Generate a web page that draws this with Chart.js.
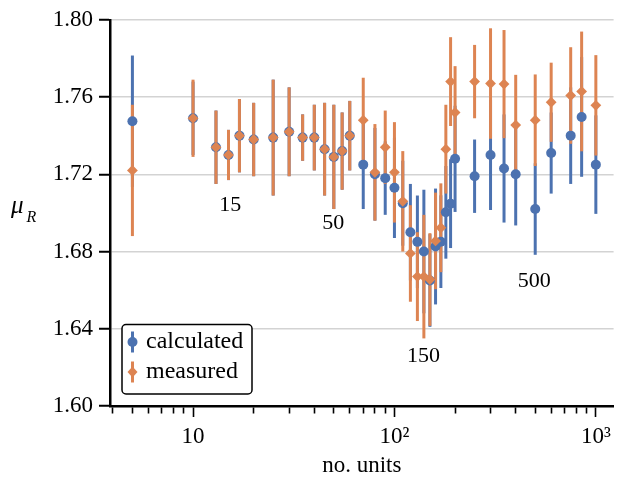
<!DOCTYPE html>
<html>
<head>
<meta charset="utf-8">
<script src="https://cdn.jsdelivr.net/npm/chart.js@4.4.1/dist/chart.umd.min.js"></script>
<style>
  html, body { margin: 0; padding: 0; background: #fff; }
  #wrap { width: 619px; height: 478px; }
</style>
</head>
<body>
<div id="wrap"><canvas id="muChart" width="619" height="478"></canvas></div>
<script>
// data
const units = [5, 10, 13, 15, 17, 20, 25, 30, 35, 40, 45, 50, 55, 60, 70, 80, 90, 100, 110, 120, 130, 140, 150, 160, 170, 180, 190, 200, 250, 300, 350, 400, 500, 600, 750, 850, 1000];
const calcMean = [1.7475, 1.749, 1.734, 1.730, 1.740, 1.738, 1.739, 1.742, 1.739, 1.739, 1.733, 1.729, 1.732, 1.740, 1.725, 1.720, 1.718, 1.713, 1.705, 1.690, 1.685, 1.680, 1.665, 1.6826, 1.6851, 1.7003, 1.7048, 1.728, 1.719, 1.730, 1.723, 1.720, 1.702, 1.731, 1.740, 1.7497, 1.725];
const calcErr = [0.034, 0.019, 0.019, 0.013, 0.019, 0.019, 0.030, 0.023, 0.012, 0.017, 0.024, 0.027, 0.020, 0.018, 0.023, 0.024, 0.019, 0.026, 0.022, 0.025, 0.024, 0.032, 0.024, 0.030, 0.024, 0.024, 0.023, 0.0275, 0.019, 0.0285, 0.028, 0.0265, 0.0237, 0.021, 0.025, 0.031, 0.0255];
const measMean = [1.722, 1.749, 1.734, 1.730, 1.740, 1.738, 1.739, 1.742, 1.739, 1.739, 1.733, 1.729, 1.732, 1.740, 1.748, 1.721, 1.734, 1.721, 1.706, 1.679, 1.667, 1.667, 1.6655, 1.6855, 1.6923, 1.733, 1.768, 1.752, 1.768, 1.767, 1.7667, 1.7455, 1.748, 1.7573, 1.7608, 1.7629, 1.7557];
const measErr = [0.034, 0.020, 0.019, 0.013, 0.019, 0.019, 0.030, 0.023, 0.012, 0.017, 0.024, 0.027, 0.020, 0.018, 0.022, 0.025, 0.019, 0.026, 0.026, 0.025, 0.023, 0.032, 0.024, 0.025, 0.023, 0.023, 0.023, 0.024, 0.019, 0.0286, 0.028, 0.026, 0.0237, 0.0205, 0.025, 0.031, 0.026];

// x ticks (log axis) and y ticks
const xTickValues = [4, 5, 6, 7, 8, 9, 10, 20, 30, 40, 50, 60, 70, 80, 90, 100, 200, 300, 400, 500, 600, 700, 800, 900, 1000];
const xTickLabels = { 10: '10', 100: '10²', 1000: '10³' };
const yTicks = [1.60, 1.64, 1.68, 1.72, 1.76, 1.80];

// text notes inside the plot
const noteText = ['15', '50', '150', '500'];
const noteX = [15.3, 49.7, 139.5, 495];
const noteY = [1.7039, 1.6944, 1.6256, 1.6646];

const BLUE = '#4C72B0';
const ORANGE = '#DD8452';
const SERIF = "'Liberation Serif', 'Times New Roman', serif";

function toPoints(xs, ys) {
    return xs.map((x, i) => ({ x: x, y: ys[i] }));
}

// error bars drawn under the markers
const errorBarPlugin = {
    id: 'errorBars',
    beforeDatasetsDraw(chart) {
        const ctx = chart.ctx;
        const xs = chart.scales.x, ys = chart.scales.y;
        const sets = [
            { mean: calcMean, err: calcErr, color: BLUE },
            { mean: measMean, err: measErr, color: ORANGE }
        ];
        ctx.save();
        ctx.lineWidth = 3;
        sets.forEach(s => {
            ctx.strokeStyle = s.color;
            units.forEach((u, i) => {
                const px = xs.getPixelForValue(u);
                ctx.beginPath();
                ctx.moveTo(px, ys.getPixelForValue(s.mean[i] - s.err[i]));
                ctx.lineTo(px, ys.getPixelForValue(s.mean[i] + s.err[i]));
                ctx.stroke();
            });
        });
        ctx.restore();
    }
};

// notes, y label and legend box
const decorPlugin = {
    id: 'decor',
    afterDraw(chart) {
        const ctx = chart.ctx;
        const xs = chart.scales.x, ys = chart.scales.y;
        ctx.save();
        ctx.fillStyle = '#000';
        ctx.font = '22px ' + SERIF;
        ctx.textAlign = 'center';
        ctx.textBaseline = 'middle';
        noteText.forEach((t, i) => {
            ctx.fillText(t, xs.getPixelForValue(noteX[i]), ys.getPixelForValue(noteY[i]));
        });

        // mu_R
        ctx.textAlign = 'left';
        ctx.textBaseline = 'alphabetic';
        ctx.font = 'italic 25px ' + SERIF;
        ctx.fillText('μ', 11, 213);
        ctx.font = 'italic 16px ' + SERIF;
        ctx.fillText('R', 26.5, 222);

        // legend
        ctx.beginPath();
        ctx.roundRect(122, 324.5, 130, 69.5, 4);
        ctx.fillStyle = '#fff';
        ctx.fill();
        ctx.lineWidth = 1.5;
        ctx.strokeStyle = '#000';
        ctx.stroke();

        ctx.lineWidth = 3;
        ctx.strokeStyle = BLUE;
        ctx.beginPath();
        ctx.moveTo(132.5, 331.5);
        ctx.lineTo(132.5, 352.5);
        ctx.stroke();
        ctx.fillStyle = BLUE;
        ctx.beginPath();
        ctx.arc(132.5, 342, 5, 0, Math.PI * 2);
        ctx.fill();

        ctx.strokeStyle = ORANGE;
        ctx.beginPath();
        ctx.moveTo(132.5, 361.5);
        ctx.lineTo(132.5, 382.5);
        ctx.stroke();
        ctx.fillStyle = ORANGE;
        ctx.beginPath();
        ctx.moveTo(132.5, 366.5);
        ctx.lineTo(137.5, 372);
        ctx.lineTo(132.5, 377.5);
        ctx.lineTo(127.5, 372);
        ctx.closePath();
        ctx.fill();

        ctx.fillStyle = '#000';
        ctx.font = '24px ' + SERIF;
        ctx.textBaseline = 'middle';
        ctx.fillText('calculated', 146, 342);
        ctx.fillText('measured', 146, 372);
        ctx.restore();
    }
};

const ctx = document.getElementById('muChart').getContext('2d');
new Chart(ctx, {
    type: 'scatter',
    data: {
        datasets: [
            {
                label: 'calculated',
                data: toPoints(units, calcMean),
                pointStyle: 'circle',
                pointRadius: 5,
                backgroundColor: BLUE,
                borderWidth: 0,
                order: 2
            },
            {
                label: 'measured',
                data: toPoints(units, measMean),
                pointStyle: 'rectRot',
                pointRadius: 5.4,
                backgroundColor: ORANGE,
                borderWidth: 0,
                order: 1
            }
        ]
    },
    options: {
        responsive: false,
        animation: false,
        devicePixelRatio: 1,
        events: [],
        layout: { padding: { top: 16, right: 0, bottom: 0, left: 0 } },
        plugins: { legend: { display: false }, tooltip: { enabled: false } },
        scales: {
            x: {
                type: 'logarithmic',
                min: 3.87,
                max: 1225,
                afterBuildTicks: (scale) => {
                    scale.ticks = xTickValues.map(v => ({ value: v, major: v in xTickLabels }));
                },
                afterFit: (scale) => { scale.height = 72; },
                ticks: {
                    autoSkip: false,
                    maxRotation: 0,
                    padding: 6,
                    color: '#000',
                    font: { family: SERIF, size: 23 },
                    callback: (value) => xTickLabels[value] || ''
                },
                grid: {
                    drawOnChartArea: false,
                    tickLength: 11,
                    tickWidth: 1.6,
                    tickColor: '#000',
                    tickBorderDash: (c) => (c.tick && c.tick.major) ? [] : [6, 40]
                },
                border: { color: '#000', width: 2.5 },
                title: {
                    display: true,
                    text: 'no. units',
                    color: '#000',
                    font: { family: SERIF, size: 23, lineHeight: 1 },
                    padding: { top: 0, bottom: 1 }
                }
            },
            y: {
                min: 1.6,
                max: 1.8,
                afterBuildTicks: (scale) => {
                    scale.ticks = yTicks.map(v => ({ value: v }));
                },
                afterFit: (scale) => { scale.width = 110; },
                ticks: {
                    padding: 6,
                    color: '#000',
                    font: { family: SERIF, size: 23 },
                    callback: (value) => Number(value).toFixed(2)
                },
                grid: {
                    color: '#d3d3d3',
                    lineWidth: 1.5,
                    tickLength: 11,
                    tickWidth: 2,
                    tickColor: '#000'
                },
                border: { color: '#000', width: 2.5 }
            }
        }
    },
    plugins: [errorBarPlugin, decorPlugin]
});
</script>
</body>
</html>
